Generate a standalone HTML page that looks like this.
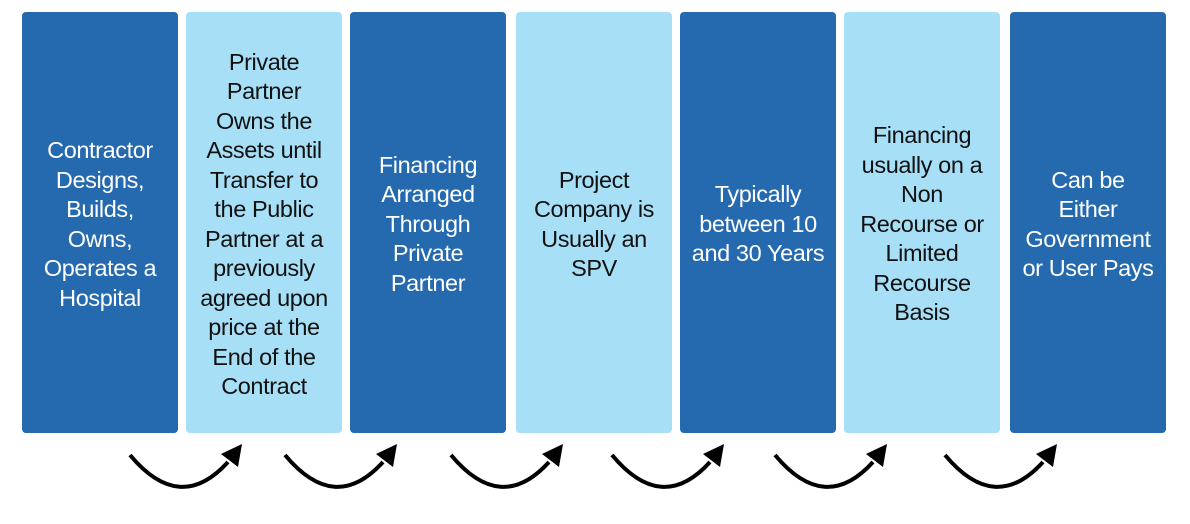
<!DOCTYPE html>
<html><head><style>
body{margin:0;width:1190px;height:524px;background:#fff;position:relative;overflow:hidden;font-family:"Liberation Sans",sans-serif;}
.b{position:absolute;top:12px;height:421px;width:156px;border-radius:4px;display:flex;align-items:center;justify-content:center;text-align:center;font-size:23.5px;line-height:29.5px;letter-spacing:-0.4px;padding-top:4px;box-sizing:border-box}
.d{background:#2569AE;color:#fff}
.l{background:#A7DFF7;color:#111}
svg{position:absolute;left:0;top:0}
</style></head><body>
<div class="b d" style="left:22px">Contractor<br>Designs,<br>Builds,<br>Owns,<br>Operates a<br>Hospital</div>
<div class="b l" style="left:186px">Private<br>Partner<br>Owns the<br>Assets until<br>Transfer to<br>the Public<br>Partner at a<br>previously<br>agreed upon<br>price at the<br>End of the<br>Contract</div>
<div class="b d" style="left:350px">Financing<br>Arranged<br>Through<br>Private<br>Partner</div>
<div class="b l" style="left:516px">Project<br>Company is<br>Usually an<br>SPV</div>
<div class="b d" style="left:680px">Typically<br>between 10<br>and 30 Years</div>
<div class="b l" style="left:844px">Financing<br>usually on a<br>Non<br>Recourse or<br>Limited<br>Recourse<br>Basis</div>
<div class="b d" style="left:1010px">Can be<br>Either<br>Government<br>or User Pays</div>
<svg width="1190" height="524">
<defs><g id="a"><path d="M0 455 Q50 515 98 462" fill="none" stroke="#000" stroke-width="4"/><polygon points="112,444 108,467 91,454" fill="#000"/></g></defs>
<use href="#a" x="130"/><use href="#a" x="285"/><use href="#a" x="451"/><use href="#a" x="612"/><use href="#a" x="775"/><use href="#a" x="945"/>
</svg>
</body></html>
